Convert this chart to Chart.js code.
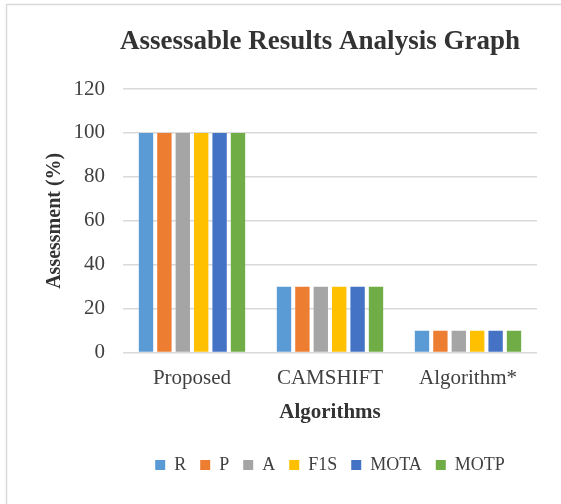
<!DOCTYPE html>
<html>
<head>
<meta charset="utf-8">
<script src="https://cdn.jsdelivr.net/npm/chart.js@4"></script>
<style>
  html, body { margin: 0; padding: 0; background: #fff; }
  #wrap { width: 561px; height: 504px; }
</style>
</head>
<body>
<div id="wrap"><canvas id="myChart"></canvas></div>
<script>
// datos del grafico
const categorias = ['Proposed', 'CAMSHIFT', 'Algorithm*'];
const series = ['R', 'P', 'A', 'F1S', 'MOTA', 'MOTP'];
const valoresR = [100, 30, 10];
const valoresP = [100, 30, 10];
const valoresA = [100, 30, 10];
const valoresF1S = [100, 30, 10];
const valoresMOTA = [100, 30, 10];
const valoresMOTP = [100, 30, 10];
const ticksY = [0, 20, 40, 60, 80, 100, 120];
const titulo = 'Assessable Results Analysis Graph';

const colores = ['#5B9BD5', '#ED7D31', '#A5A5A5', '#FFC000', '#4472C4', '#70AD47'];
const valores = [valoresR, valoresP, valoresA, valoresF1S, valoresMOTA, valoresMOTP];

const fuente = "'Liberation Serif', 'Times New Roman', serif";
const gris = '#404040';

// marco gris (solo se ve arriba y a la izquierda) y titulo
const marco = {
  id: 'marco',
  beforeDraw(chart) {
    const ctx = chart.ctx;
    ctx.save();
    ctx.fillStyle = '#fff';
    ctx.fillRect(0, 0, chart.width, chart.height);
    ctx.strokeStyle = '#D9D9D9';
    ctx.lineWidth = 1.5;
    ctx.strokeRect(6.5, 4.5, chart.width + 20, chart.height + 20);
    ctx.restore();
  },
  afterDraw(chart) {
    const ctx = chart.ctx;
    ctx.save();
    ctx.fillStyle = '#333';
    ctx.font = "bold 27px " + fuente;
    ctx.textAlign = 'center';
    ctx.textBaseline = 'middle';
    ctx.fillText(titulo, 320, 42);
    ctx.restore();
  }
};

const datasets = series.map((nombre, i) => ({
  label: nombre,
  data: valores[i],
  backgroundColor: colores[i],
  borderWidth: 0,
  barPercentage: 0.78,
  categoryPercentage: 0.8
}));

new Chart(document.getElementById('myChart'), {
  type: 'bar',
  data: { labels: categorias, datasets: datasets },
  plugins: [marco],
  options: {
    responsive: true,
    maintainAspectRatio: false,
    animation: false,
    layout: { padding: { left: 43, right: 24, top: 89, bottom: 20 } },
    plugins: {
      title: { display: false },
      legend: {
        position: 'bottom',
        fullSize: false,
        labels: {
          color: gris,
          font: { family: fuente, size: 18 },
          boxWidth: 10,
          boxHeight: 10,
          padding: 14
        }
      },
      tooltip: { enabled: false }
    },
    scales: {
      x: {
        grid: { display: false },
        border: { display: false },
        ticks: { color: gris, font: { family: fuente, size: 21 }, padding: 5 },
        title: {
          display: true,
          text: 'Algorithms',
          color: '#333',
          font: { family: fuente, size: 21, weight: 'bold' },
          padding: { top: 4, bottom: 17 }
        }
      },
      y: {
        min: 0,
        max: 120,
        afterBuildTicks(scale) { scale.ticks = ticksY.map(v => ({ value: v })); },
        afterFit(scale) { scale.width = 80; },
        grid: { color: '#D9D9D9', lineWidth: 1.5, drawTicks: false },
        border: { display: false },
        ticks: { color: gris, font: { family: fuente, size: 21 }, padding: 18 },
        title: {
          display: true,
          text: 'Assessment (%)',
          color: '#333',
          font: { family: fuente, size: 20, weight: 'bold' },
          padding: { top: 0, bottom: 6 }
        }
      }
    }
  }
});
</script>
</body>
</html>
